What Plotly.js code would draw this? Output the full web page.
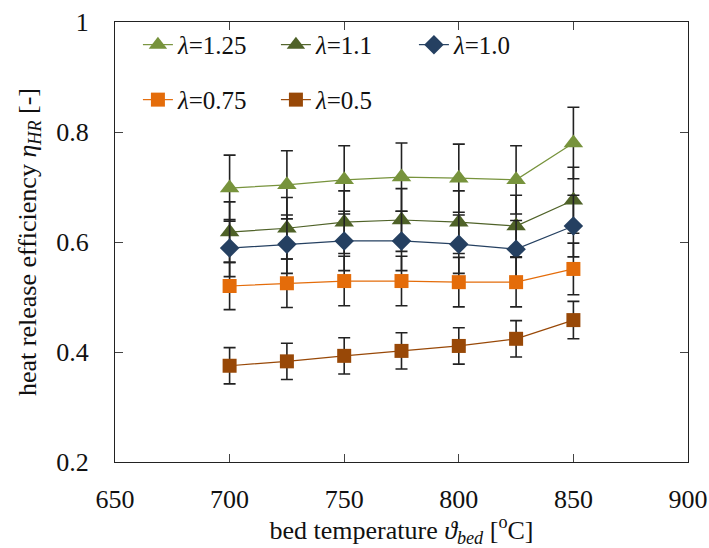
<!DOCTYPE html>
<html>
<head>
<meta charset="utf-8">
<script src="https://cdn.plot.ly/plotly-3.0.0.min.js"></script>
<style>html,body{margin:0;padding:0;background:#fff;}#chart{width:709px;height:548px;}</style>
</head>
<body>
<div id="chart"></div>
<script>
const temps = [700, 725, 750, 775, 800, 825, 850];
const lam125 = [0.698, 0.704, 0.713, 0.718, 0.716, 0.713, 0.780];
const lam110 = [0.618, 0.625, 0.636, 0.640, 0.636, 0.629, 0.676];
const lam100 = [0.589, 0.596, 0.602, 0.602, 0.596, 0.587, 0.629];
const lam075 = [0.520, 0.525, 0.529, 0.529, 0.527, 0.527, 0.551];
const lam050 = [0.375, 0.383, 0.393, 0.402, 0.411, 0.424, 0.458];
const err125 = [0.060, 0.062, 0.062, 0.062, 0.062, 0.062, 0.065];
const err110 = [0.055, 0.056, 0.057, 0.057, 0.057, 0.056, 0.060];
const err100 = [0.052, 0.053, 0.054, 0.054, 0.053, 0.052, 0.056];
const err075 = [0.043, 0.044, 0.045, 0.045, 0.045, 0.045, 0.047];
const err050 = [0.033, 0.033, 0.033, 0.033, 0.033, 0.033, 0.034];
const labels = ['<i>λ</i>=1.25', '<i>λ</i>=1.1', '<i>λ</i>=1.0', '<i>λ</i>=0.75', '<i>λ</i>=0.5'];
const colors = ['#77933C', '#4F6228', '#254061', '#E46C0A', '#984807'];
const symbols = ['triangle-up', 'triangle-up', 'diamond', 'square', 'square'];
const sizes = [17, 17, 15, 14, 14];
const series = [lam125, lam110, lam100, lam075, lam050];
const errs = [err125, err110, err100, err075, err050];
const legends = ['legend', 'legend', 'legend', 'legend2', 'legend2'];

const FAM = 'Liberation Serif';
const traces = series.map((ys, i) => ({
  x: temps, y: ys, type: 'scatter', mode: 'lines+markers', name: labels[i],
  legend: legends[i],
  line: {color: colors[i], width: 1.2},
  marker: {symbol: symbols[i], size: sizes[i], color: colors[i]},
  error_y: {type: 'data', array: errs[i], visible: true, color: '#222', thickness: 1.6, width: 6}
}));

function axisBase() {
  return {
    showgrid: false, zeroline: false, showline: true, linecolor: '#222', linewidth: 1,
    mirror: 'ticks', ticks: 'inside', ticklen: 8, tickcolor: '#444', tickwidth: 1,
    tickfont: {family: FAM, size: 26, color: '#111'}
  };
}
function legendBase(y) {
  return {
    orientation: 'h', xanchor: 'left', yanchor: 'middle', x: 0.04, y: y,
    bgcolor: 'rgba(0,0,0,0)',
    font: {family: FAM, size: 25, color: '#111'}, entrywidth: 93, entrywidthmode: 'pixels',
    traceorder: 'normal'
  };
}
const xa = axisBase();
xa.range = [650, 900];
xa.tickvals = [650, 700, 750, 800, 850, 900];
xa.ticklabelstandoff = 14;
xa.title = {text: 'bed temperature <i>ϑ<sub>bed</sub></i> [<sup>o</sup>C]', font: {family: FAM, size: 26, color: '#111'}, standoff: 8};
const ya = axisBase();
ya.range = [0.2, 1];
ya.tickvals = [0.2, 0.4, 0.6, 0.8, 1];
ya.ticktext = ['0.2', '0.4', '0.6', '0.8', '1'];
ya.ticklabelstandoff = 20;
ya.title = {text: 'heat release efficiency <i>η<sub>HR</sub></i> [-]', font: {family: FAM, size: 26, color: '#111'}, standoff: 12};

const layout = {
  width: 709, height: 548,
  font: {family: FAM, size: 25, color: '#111'},
  margin: {l: 115, r: 21, t: 22, b: 86},
  paper_bgcolor: '#fff', plot_bgcolor: '#fff',
  xaxis: xa, yaxis: ya,
  legend: legendBase(0.948),
  legend2: legendBase(0.823),
  showlegend: true
};
Plotly.newPlot('chart', traces, layout, {displayModeBar: false, staticPlot: true});
</script>
</body>
</html>
